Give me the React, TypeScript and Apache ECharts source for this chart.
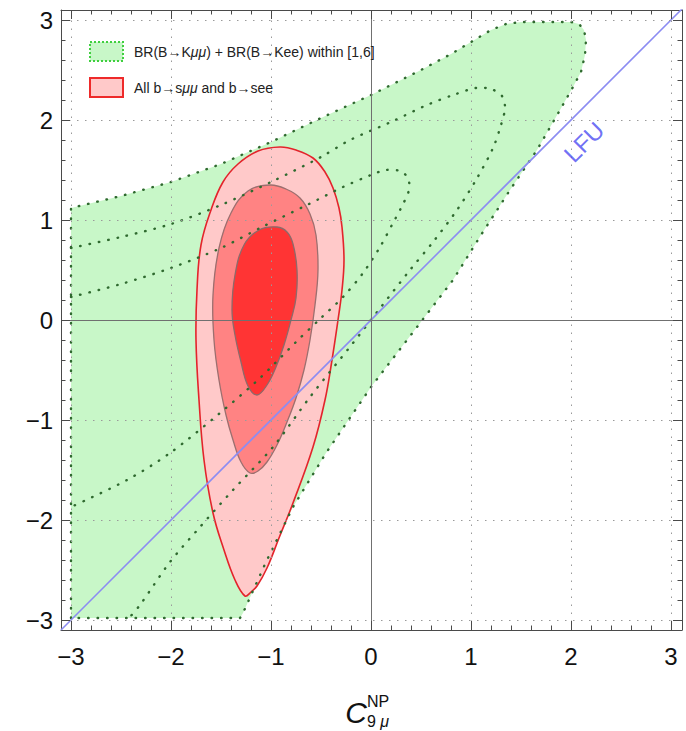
import React, { useEffect, useRef } from "react";
import * as echarts from "echarts";

type Pt = [number, number];

// Axis ranges (shifts of the Wilson coefficients)
const X_RANGE: Pt = [-3.1, 3.11];
const Y_RANGE: Pt = [-3.1, 3.1];

const majorTicks: number[] = [-3, -2, -1, 0, 1, 2, 3];
const minorTicks: number[] = Array.from({ length: 31 }, (_, i) => Math.round((-3 + i * 0.2) * 10) / 10);
const gridValues: number[] = [-3, -2, -1, 1, 2, 3];
const zeroValues: number[] = [0];

// BR(B→Kμμ) + BR(B→Kee) allowed region (outer boundary)
const brAllowed: Pt[] = [
  [-3.0, -2.98], [-3.0, 1.12], [-2.5, 1.24], [-2.0, 1.38], [-1.5, 1.56], [-1.0, 1.78],
  [-0.5, 2.02], [0.0, 2.25], [0.5, 2.5], [0.8, 2.66], [1.0, 2.78], [1.2, 2.9], [1.35, 2.96],
  [1.5, 2.98], [2.0, 2.98], [2.08, 2.96], [2.13, 2.9], [2.15, 2.8], [2.14, 2.65], [2.1, 2.48],
  [2.02, 2.33], [1.89, 2.1], [1.66, 1.7], [1.39, 1.3], [1.1, 0.85], [0.82, 0.4], [0.46, -0.07],
  [0.0, -0.67], [-0.45, -1.33], [-0.78, -1.87], [-1.05, -2.42], [-1.28, -2.93], [-1.31, -2.98],
];

// Inner dotted contours of the same observable
const brLevel2: Pt[] = [
  [-3.0, 0.72], [-2.5, 0.83], [-2.0, 0.96], [-1.5, 1.15], [-1.0, 1.38], [-0.5, 1.63],
  [-0.21, 1.8], [0.2, 1.98], [0.56, 2.15], [0.85, 2.26], [1.05, 2.32], [1.2, 2.31],
  [1.31, 2.24], [1.34, 2.12], [1.3, 1.95], [1.22, 1.72], [1.05, 1.4], [0.86, 1.1],
  [0.62, 0.78], [0.39, 0.5], [0.1, 0.13], [-0.18, -0.23], [-0.61, -0.77], [-0.98, -1.27],
  [-1.38, -1.7], [-1.71, -2.07], [-2.01, -2.42], [-2.31, -2.85], [-2.42, -2.98],
];

const brLevel3: Pt[] = [
  [-3.0, 0.23], [-2.5, 0.36], [-2.0, 0.52], [-1.5, 0.72], [-1.11, 0.92], [-0.64, 1.15],
  [-0.28, 1.33], [0.0, 1.45], [0.15, 1.5], [0.29, 1.49], [0.37, 1.42], [0.38, 1.3],
  [0.3, 1.12], [0.22, 0.97], [0.09, 0.73], [-0.08, 0.47], [-0.28, 0.23], [-0.5, 0.02],
  [-0.75, -0.22], [-1.11, -0.58], [-1.51, -0.93], [-2.01, -1.33], [-2.44, -1.6], [-3.0, -1.87],
];

// Global fit of all b→sμμ and b→see data: 3σ, 2σ, 1σ regions
const fit3Sigma: Pt[] = [
  [-0.91, 1.73], [-0.75, 1.7], [-0.58, 1.62], [-0.46, 1.48], [-0.38, 1.32], [-0.32, 1.12],
  [-0.29, 0.93], [-0.27, 0.6], [-0.29, 0.3], [-0.33, 0.0], [-0.39, -0.4], [-0.46, -0.8],
  [-0.58, -1.27], [-0.78, -1.83], [-0.92, -2.18], [-1.04, -2.48], [-1.14, -2.66],
  [-1.2, -2.72], [-1.26, -2.76], [-1.36, -2.6], [-1.47, -2.3], [-1.58, -1.93], [-1.67, -1.4],
  [-1.72, -0.8], [-1.75, -0.2], [-1.74, 0.3], [-1.7, 0.75], [-1.6, 1.1], [-1.48, 1.38],
  [-1.33, 1.56], [-1.13, 1.69],
];

const fit2Sigma: Pt[] = [
  [-1.01, 1.35], [-0.85, 1.31], [-0.71, 1.22], [-0.61, 1.06], [-0.55, 0.85], [-0.53, 0.5],
  [-0.56, 0.15], [-0.61, -0.2], [-0.67, -0.5], [-0.75, -0.78], [-0.84, -1.02], [-0.94, -1.25],
  [-1.04, -1.42], [-1.13, -1.51], [-1.21, -1.53], [-1.3, -1.42], [-1.38, -1.2], [-1.45, -0.95],
  [-1.52, -0.6], [-1.57, -0.2], [-1.58, 0.25], [-1.52, 0.72], [-1.4, 1.07], [-1.23, 1.29],
];

const fit1Sigma: Pt[] = [
  [-0.94, 0.93], [-0.84, 0.88], [-0.78, 0.76], [-0.74, 0.5], [-0.75, 0.22], [-0.8, 0.0],
  [-0.87, -0.25], [-0.95, -0.47], [-1.04, -0.65], [-1.14, -0.75], [-1.23, -0.66], [-1.3, -0.42],
  [-1.36, -0.15], [-1.39, 0.1], [-1.36, 0.45], [-1.27, 0.75], [-1.12, 0.9],
];

// Lepton flavour universality: the diagonal
const lfuLine: Pt[] = [[-3.1, -3.1], [3.11, 3.11]];
const lfuLabelAt: Pt = [2.13, 1.78];

const FONT = "'Liberation Sans', Arial, Helvetica, sans-serif";
const FRAME = "#4a4a4a";
const DOT_GREEN = "#2f6a2f";

const fmt = (v: number) => (v < 0 ? "\u2212" + Math.abs(v) : String(v));

function polygonSeries(pts: Pt[], style: any, z: number, smooth: number) {
  return {
    type: "custom",
    coordinateSystem: "cartesian2d",
    data: [pts[0]],
    z,
    silent: true,
    clip: true,
    renderItem: (_p: any, api: any) => ({
      type: "polygon",
      shape: { points: pts.map((p) => api.coord(p)), smooth },
      style,
    }),
  };
}

function polylineSeries(pts: Pt[], z: number) {
  return {
    type: "custom",
    coordinateSystem: "cartesian2d",
    data: [pts[0]],
    z,
    silent: true,
    clip: true,
    renderItem: (_p: any, api: any) => ({
      type: "polyline",
      shape: { points: pts.map((p) => api.coord(p)), smooth: 0.3 },
      style: { fill: null, stroke: DOT_GREEN, lineWidth: 2.4, lineDash: [0.5, 9], lineCap: "round" },
    }),
  };
}

// Inward tick marks on all four sides of the frame
const frameTicksSeries = {
  type: "custom",
  coordinateSystem: "cartesian2d",
  data: [[0, 0]],
  z: 10,
  silent: true,
  clip: false,
  renderItem: (_p: any, api: any) => {
    const children: any[] = [];
    const crisp = (v: number) => Math.round(v) + 0.5;
    const st = { stroke: FRAME, lineWidth: 1 };
    const addX = (vals: number[], len: number) =>
      vals.forEach((v) => {
        const b = api.coord([v, Y_RANGE[0]]);
        const t = api.coord([v, Y_RANGE[1]]);
        const x = crisp(b[0]);
        children.push({ type: "line", shape: { x1: x, y1: b[1], x2: x, y2: b[1] - len }, style: st });
        children.push({ type: "line", shape: { x1: x, y1: t[1], x2: x, y2: t[1] + len }, style: st });
      });
    const addY = (vals: number[], len: number) =>
      vals.forEach((v) => {
        const l = api.coord([X_RANGE[0], v]);
        const r = api.coord([X_RANGE[1], v]);
        const y = crisp(l[1]);
        children.push({ type: "line", shape: { x1: l[0], y1: y, x2: l[0] + len, y2: y }, style: st });
        children.push({ type: "line", shape: { x1: r[0], y1: y, x2: r[0] - len, y2: y }, style: st });
      });
    addX(minorTicks, 4.5);
    addX(majorTicks, 9);
    addY(minorTicks, 4.5);
    addY(majorTicks, 9);
    return { type: "group", children };
  },
};

function axis(kind: "x" | "y", position: string, labels: boolean) {
  const range = kind === "x" ? X_RANGE : Y_RANGE;
  return {
    type: "value",
    min: range[0],
    max: range[1],
    position,
    axisLine: { show: true, onZero: false, lineStyle: { color: FRAME, width: 1 } },
    axisTick: { show: false },
    axisLabel: labels
      ? {
          show: true,
          customValues: majorTicks,
          formatter: fmt,
          fontSize: 24,
          fontFamily: FONT,
          color: "#111",
          margin: kind === "x" ? 14 : 8,
        }
      : { show: false },
    splitLine: { show: false },
    minorTick: { show: false },
  };
}

export default function App() {
  const ref = useRef<HTMLDivElement>(null);

  useEffect(() => {
    if (!ref.current) return;
    const chart = echarts.init(ref.current, undefined, { renderer: "svg" });

    const dotted = { color: "#9a9a9a", width: 1, type: [1.5, 6.5] };
    const solid = { color: "#707070", width: 1, type: "solid" };

    const option: any = {
      animation: false,
      backgroundColor: "#ffffff",
      grid: { left: 61, right: 4, top: 10, bottom: 101, containLabel: false },
      xAxis: [axis("x", "bottom", true), axis("x", "top", false)],
      yAxis: [axis("y", "left", true), axis("y", "right", false)],
      series: [
        polygonSeries(brAllowed, { fill: "#c8f7c8" }, 1, 0),
        polygonSeries(fit3Sigma, { fill: "#ffc9c9", stroke: "#e3242b", lineWidth: 1.6 }, 2, 0.4),
        polygonSeries(fit2Sigma, { fill: "#ff8383", stroke: "#9c6f6f", lineWidth: 1.3 }, 2, 0.4),
        polygonSeries(fit1Sigma, { fill: "#ff3434", stroke: "#8d6a6a", lineWidth: 1.3 }, 2, 0.4),
        polygonSeries(
          brAllowed,
          { fill: null, stroke: DOT_GREEN, lineWidth: 2.4, lineDash: [0.5, 9], lineCap: "round" },
          3,
          0
        ),
        polylineSeries(brLevel2, 3),
        polylineSeries(brLevel3, 3),
        {
          type: "line",
          data: lfuLine,
          z: 4,
          showSymbol: false,
          silent: true,
          clip: true,
          lineStyle: { color: "#8c8cf2", width: 1.6 },
          markLine: {
            silent: true,
            symbol: ["none", "none"],
            label: { show: false },
            data: [
              ...gridValues.map((v) => ({ xAxis: v, lineStyle: dotted })),
              ...gridValues.map((v) => ({ yAxis: v, lineStyle: dotted })),
              ...zeroValues.map((v) => ({ xAxis: v, lineStyle: solid })),
              ...zeroValues.map((v) => ({ yAxis: v, lineStyle: solid })),
            ],
          },
        },
        {
          type: "scatter",
          data: [lfuLabelAt],
          symbolSize: 0,
          z: 5,
          silent: true,
          label: {
            show: true,
            position: "inside",
            formatter: "LFU",
            rotate: 45,
            fontSize: 24,
            fontFamily: FONT,
            color: "#4b4bf2",
          },
        },
        frameTicksSeries,
      ],
      graphic: [
        {
          type: "rect",
          shape: { x: 90, y: 42, width: 33, height: 19 },
          style: { fill: "#c8f7c8", stroke: "#3fcf3f", lineWidth: 2, lineDash: [2, 2] },
          z: 100,
        },
        {
          type: "text",
          x: 134,
          y: 52,
          z: 100,
          style: {
            text: "{a|BR(B\u2192K}{i|\u03bc\u03bc}{a|) + BR(B\u2192Kee) within [1,6]}",
            verticalAlign: "middle",
            rich: {
              a: { fontSize: 14, fontFamily: FONT, fill: "#222" },
              i: { fontSize: 14, fontFamily: FONT, fontStyle: "italic", fill: "#222" },
            },
          },
        },
        {
          type: "rect",
          shape: { x: 90, y: 78, width: 33, height: 19 },
          style: { fill: "#ffc9c9", stroke: "#ee2a2a", lineWidth: 2 },
          z: 100,
        },
        {
          type: "text",
          x: 134,
          y: 88,
          z: 100,
          style: {
            text: "{a|All b\u2192s}{i|\u03bc\u03bc}{a| and b\u2192see}",
            verticalAlign: "middle",
            rich: {
              a: { fontSize: 14, fontFamily: FONT, fill: "#222" },
              i: { fontSize: 14, fontFamily: FONT, fontStyle: "italic", fill: "#222" },
            },
          },
        },
        {
          type: "text",
          x: 356,
          y: 712,
          style: {
            text: "C",
            fontSize: 30,
            fontStyle: "italic",
            fontFamily: FONT,
            fill: "#111",
            align: "center",
            verticalAlign: "middle",
          },
        },
        {
          type: "text",
          x: 367,
          y: 701,
          style: { text: "NP", fontSize: 16, fontFamily: FONT, fill: "#111", verticalAlign: "middle" },
        },
        {
          type: "text",
          x: 367,
          y: 721,
          style: {
            text: "{n|9 }{m|\u03bc}",
            verticalAlign: "middle",
            rich: {
              n: { fontSize: 16, fontFamily: FONT, fill: "#111" },
              m: { fontSize: 16, fontFamily: FONT, fontStyle: "italic", fill: "#111" },
            },
          },
        },
      ],
    };

    chart.setOption(option);
    return () => chart.dispose();
  }, []);

  return (
    <div
      ref={ref}
      style={{ position: "absolute", left: 0, top: 0, width: 686, height: 731, background: "#fff" }}
    />
  );
}
